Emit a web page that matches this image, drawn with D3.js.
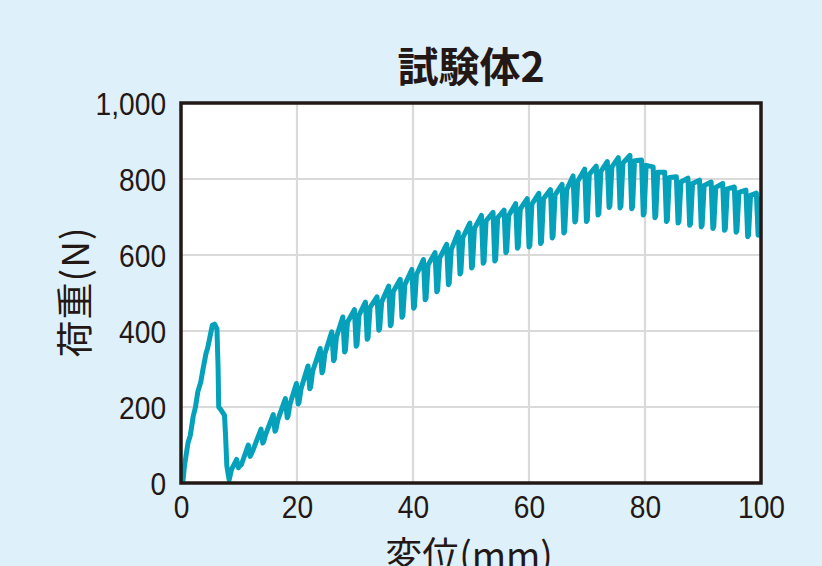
<!DOCTYPE html>
<html>
<head>
<meta charset="utf-8">
<script src="https://cdn.jsdelivr.net/npm/d3@7"></script>
<style>
  body { margin: 0; background: #def0fa; }
  svg { display: block; }
</style>
</head>
<body>
<svg id="chart" width="822" height="566"></svg>
<script>
// axis ticks
var xTicks = [0, 20, 40, 60, 80, 100];
var yTicks = [0, 200, 400, 600, 800, 1000];

// first loading up to failure, then drop (displacement mm / load N)
var firstDisp = [0.3, 0.6, 1.2, 1.6, 2.1, 2.5, 2.9, 3.4, 3.8, 4.3, 4.6, 5.0, 5.4, 5.8, 6.2, 6.4, 6.5, 7.0, 7.5, 7.7, 7.9, 8.3, 8.7];
var firstLoad = [0, 45, 105, 125, 175, 200, 240, 265, 300, 340, 355, 385, 415, 418, 405, 300, 200, 190, 178, 120, 45, 8, 35];

// unload / reload cycles: displacement at peak, peak load, trough load
var cycleDisp = [9.6, 11.6, 13.8, 15.9, 18.0, 19.9, 21.9, 24.0, 26.0, 27.9, 29.9, 31.8, 33.8, 35.8, 37.8, 39.8,
  41.8, 43.8, 45.8, 47.8, 49.8, 51.8, 53.8, 55.7, 57.7, 59.7, 61.7, 63.7, 65.7, 67.6, 69.6, 71.6, 73.5, 75.4,
  77.4, 79.4, 81.4, 83.4, 85.4, 87.4, 89.4, 91.4, 93.4, 95.4, 97.4, 99.2];
var cyclePeak = [62, 100, 142, 180, 222, 262, 308, 354, 398, 437, 456, 476, 490, 518, 536, 562,
  588, 606, 628, 660, 684, 704, 712, 718, 735, 748, 762, 772, 786, 808, 826, 834, 846, 856,
  862, 850, 832, 818, 806, 802, 797, 792, 788, 779, 771, 763];
var cycleTrough = [40, 70, 105, 136, 172, 208, 248, 290, 322, 345, 360, 378, 402, 414, 436, 460,
  482, 503, 522, 550, 566, 578, 584, 606, 618, 621, 630, 645, 658, 687, 688, 705, 725, 724,
  722, 705, 698, 688, 684, 678, 674, 670, 665, 660, 648, 652];

var margin = { top: 103, left: 181 };
var W = 580, H = 380;
var ink = '#231815';
var lineCol = '#05a0b9';

var svg = d3.select('#chart');

var x = d3.scaleLinear().domain([0, 100]).range([0, W]);
var y = d3.scaleLinear().domain([0, 1000]).range([H, 0]);

var g = svg.append('g').attr('transform', 'translate(' + margin.left + ',' + margin.top + ')');

svg.append('clipPath').attr('id', 'plotClip')
  .append('rect').attr('width', W).attr('height', H);

// plot area
g.append('rect').attr('width', W).attr('height', H).attr('fill', '#fff');

// grid
g.append('g')
  .selectAll('line')
  .data(xTicks.slice(1, -1))
  .enter()
  .append('line')
  .attr('x1', (d) => x(d)).attr('x2', (d) => x(d))
  .attr('y1', 0).attr('y2', H)
  .attr('stroke', '#dadada').attr('stroke-width', 2.2);
g.append('g')
  .selectAll('line')
  .data(yTicks.slice(1, -1))
  .enter()
  .append('line')
  .attr('x1', 0).attr('x2', W)
  .attr('y1', (d) => y(d)).attr('y2', (d) => y(d))
  .attr('stroke', '#dadada').attr('stroke-width', 2.2);

// build the curve: each cycle goes peak -> unload -> reload near the same level
var pts = firstDisp.map((d, i) => [d, firstLoad[i]]);
cycleDisp.forEach(function (d, i) {
  pts.push([d, cyclePeak[i]]);
  pts.push([d + 0.3, cycleTrough[i]]);
  pts.push([d + 0.45, cycleTrough[i] + 4]);
  pts.push([d + 0.8, cyclePeak[i] - 14]);
});

var lnMkr = d3.line().x((d) => x(d[0])).y((d) => y(d[1]));
g.append('path')
  .attr('d', lnMkr(pts))
  .attr('clip-path', 'url(#plotClip)')
  .attr('fill', 'none')
  .attr('stroke', lineCol)
  .attr('stroke-width', 5)
  .attr('stroke-linejoin', 'round')
  .attr('stroke-linecap', 'round');

// frame
g.append('rect').attr('width', W).attr('height', H)
  .attr('fill', 'none').attr('stroke', ink).attr('stroke-width', 3.5);

// axes
var fmt = d3.format(',');
var xAxis = g.append('g')
  .attr('transform', 'translate(0,' + H + ')')
  .call(d3.axisBottom(x).tickValues(xTicks).tickSize(0).tickPadding(6).tickFormat(fmt));
var yAxis = g.append('g')
  .call(d3.axisLeft(y).tickValues(yTicks).tickSize(0).tickPadding(17).tickFormat(fmt));
[xAxis, yAxis].forEach(function (a) {
  a.select('.domain').remove();
  a.selectAll('text')
    .attr('fill', ink)
    .attr('font-family', '"Liberation Sans", Arial, sans-serif')
    .attr('font-size', 32)
    .attr('transform', 'scale(0.88,1)');
});
xAxis.selectAll('text').attr('dy', '0.9em');
yAxis.selectAll('text').attr('dy', '0.36em');

// titles
svg.append('text')
  .attr('x', margin.left + W / 2)
  .attr('y', 82)
  .attr('text-anchor', 'middle')
  .attr('font-family', '"Noto Sans CJK JP", sans-serif')
  .attr('font-weight', 'bold')
  .attr('font-size', 41)
  .attr('fill', ink)
  .text('試験体2');

svg.append('text')
  .attr('x', margin.left + W / 2 - 2)
  .attr('y', 569)
  .attr('text-anchor', 'middle')
  .attr('font-family', '"Noto Sans CJK JP", sans-serif')
  .attr('font-size', 37)
  .attr('fill', ink)
  .text('変位(mm)');

svg.append('text')
  .attr('transform', 'translate(89,' + 292 + ') rotate(-90)')
  .attr('text-anchor', 'middle')
  .attr('font-family', '"Noto Sans CJK JP", sans-serif')
  .attr('font-size', 37)
  .attr('letter-spacing', 1)
  .attr('fill', ink)
  .text('荷重(N)');
</script>
</body>
</html>
